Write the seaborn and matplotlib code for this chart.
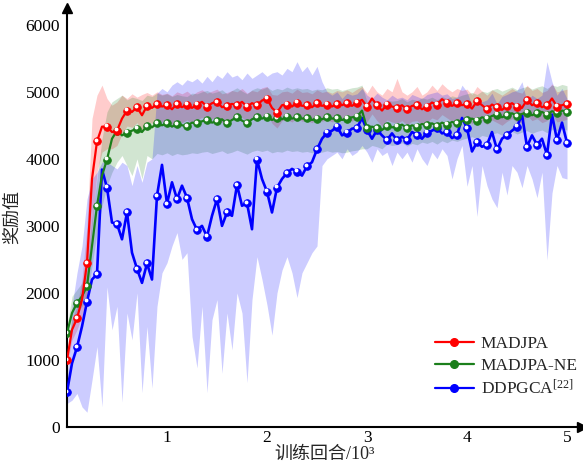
import numpy as np
import matplotlib
matplotlib.use("Agg")
import matplotlib.pyplot as plt
from matplotlib.lines import Line2D
from matplotlib.transforms import ScaledTranslation
import seaborn as sns

# Training episodes (every 50 episodes, 0 .. 5000)
episodes = np.arange(0, 5001, 50)

# MADJPA: mean reward and shaded range
madjpa_mean = [
    1000, 1450, 1620, 1900, 2450, 3700, 4260, 4480, 4480, 4400,
    4420, 4600, 4720, 4700, 4770, 4650, 4790, 4760, 4820, 4780,
    4800, 4740, 4820, 4770, 4810, 4760, 4810, 4850, 4780, 4830,
    4850, 4770, 4790, 4820, 4800, 4850, 4780, 4830, 4800, 4870,
    4900, 4760, 4690, 4800, 4810, 4780, 4840, 4790, 4800, 4770,
    4830, 4790, 4810, 4780, 4820, 4800, 4830, 4790, 4840, 4880,
    4780, 4900, 4800, 4720, 4810, 4780, 4760, 4800, 4740, 4790,
    4800, 4740, 4780, 4840, 4810, 4890, 4840, 4790, 4830, 4800,
    4820, 4750, 4860, 4800, 4740, 4810, 4770, 4730, 4790, 4830,
    4780, 4760, 4880, 4800, 4830, 4770, 4800, 4900, 4780, 4800,
    4820,
]
madjpa_low = [
    900, 1300, 1450, 1650, 2000, 3000, 3800, 4100, 4150, 4150,
    4200, 4370, 4490, 4470, 4540, 4420, 4560, 4530, 4590, 4550,
    4570, 4510, 4590, 4540, 4580, 4530, 4580, 4620, 4550, 4600,
    4620, 4540, 4560, 4590, 4570, 4620, 4550, 4600, 4570, 4640,
    4670, 4530, 4460, 4570, 4580, 4550, 4610, 4560, 4570, 4540,
    4600, 4560, 4580, 4550, 4590, 4570, 4600, 4560, 4610, 4650,
    4550, 4670, 4570, 4490, 4580, 4550, 4530, 4570, 4510, 4560,
    4570, 4510, 4550, 4610, 4580, 4660, 4610, 4560, 4600, 4570,
    4590, 4520, 4630, 4570, 4510, 4580, 4540, 4500, 4560, 4600,
    4550, 4530, 4650, 4570, 4600, 4540, 4570, 4670, 4550, 4570,
    4590,
]
madjpa_high = [
    1100, 1600, 1800, 2200, 3000, 4600, 4950, 5100, 4900, 4800,
    4850, 4950, 4900, 4970, 4920, 4960, 4990, 4950, 5000, 4960,
    4980, 4940, 5000, 4970, 5010, 4950, 5000, 5030, 4980, 5010,
    5040, 4970, 4990, 5020, 5000, 5050, 4980, 5020, 5000, 5060,
    5080, 4960, 4950, 5000, 5010, 4980, 5040, 4990, 5000, 4970,
    5030, 4990, 5010, 4980, 5020, 5000, 5030, 4990, 5040, 5080,
    4980, 5100, 5000, 4950, 5050, 5000, 5200, 5000, 4950, 5000,
    5080, 4950, 5000, 5100, 5020, 5120, 5050, 5000, 5050, 5020,
    5040, 4960, 5080, 5010, 4950, 5030, 4990, 4950, 5000, 5050,
    5000, 4980, 5100, 5020, 5050, 4990, 5020, 5120, 5000, 5020,
    5040,
]

# MADJPA-NE: mean reward and shaded range
ne_mean = [
    1400, 1700, 1850, 1950, 2100, 2700, 3300, 3750, 3990, 4300,
    4420, 4350, 4390, 4420, 4450, 4400, 4490, 4470, 4530, 4500,
    4530, 4480, 4520, 4500, 4490, 4540, 4530, 4560, 4580, 4540,
    4560, 4590, 4530, 4580, 4620, 4570, 4530, 4590, 4620, 4600,
    4630, 4580, 4610, 4590, 4630, 4600, 4620, 4600, 4610, 4580,
    4600, 4590, 4620, 4600, 4610, 4580, 4600, 4620, 4630, 4720,
    4460, 4480, 4460, 4430, 4490, 4470, 4480, 4510, 4460, 4500,
    4480, 4520, 4500, 4530, 4490, 4540, 4510, 4550, 4530, 4560,
    4580, 4600, 4570, 4620, 4600, 4640, 4660, 4620, 4650, 4680,
    4640, 4670, 4690, 4650, 4680, 4700, 4660, 4710, 4690, 4720,
    4700,
]
ne_low = [
    1300, 1500, 1700, 1800, 1900, 2400, 2900, 3300, 3600, 3800,
    3950, 4050, 3900, 3750, 4000, 3700, 4050, 4000, 4080, 4060,
    4090, 4050, 4080, 4060, 4070, 4090, 4080, 4100, 4110, 4080,
    4100, 4120, 4080, 4100, 4130, 4100, 4070, 4110, 4130, 4110,
    4130, 4090, 4110, 4100, 4130, 4110, 4120, 4100, 4110, 4090,
    4100, 4100, 4120, 4100, 4110, 4090, 4100, 4120, 4130, 4150,
    4150, 4200, 4180, 4150, 4220, 4200, 4210, 4240, 4190, 4230,
    4210, 4250, 4230, 4260, 4220, 4270, 4240, 4280, 4260, 4290,
    4310, 4330, 4300, 4350, 4330, 4370, 4390, 4350, 4380, 4410,
    4370, 4400, 4420, 4380, 4410, 4430, 4390, 4440, 4420, 4450,
    4430,
]
ne_high = [
    1500, 1950, 2050, 2150, 2350, 3100, 3700, 4300, 4700, 4850,
    4900, 4950, 4880, 4920, 4900, 4870, 4950, 4930, 4980, 4950,
    4970, 4930, 4960, 4940, 4930, 4980, 4970, 5000, 5020, 4980,
    5000, 5030, 4970, 5020, 5060, 5010, 4970, 5030, 5060, 5040,
    5070, 5020, 5050, 5030, 5070, 5040, 5060, 5040, 5050, 5020,
    5040, 5030, 5060, 5040, 5050, 5020, 5040, 5060, 5070, 5100,
    4850, 4870, 4850, 4820, 4880, 4860, 4870, 4900, 4850, 4890,
    4870, 4910, 4890, 4920, 4880, 4930, 4900, 4940, 4920, 4950,
    4970, 4990, 4960, 5010, 4990, 5030, 5050, 5010, 5040, 5070,
    5030, 5060, 5080, 5040, 5070, 5090, 5050, 5100, 5080, 5110,
    5090,
]

# DDPGCA: mean reward and shaded range
ddpgca_mean = [
    520, 950, 1190, 1500, 1870, 2200, 2280, 3840, 3570, 3050,
    3030, 2800, 3200, 2600, 2360, 2150, 2440, 2200, 3450, 3910,
    3330, 3650, 3400, 3600, 3420, 3100, 2940, 3000, 2840, 3150,
    3400, 3000, 3200, 3150, 3610, 3300, 3340, 2950, 3990, 3700,
    3510, 3200, 3570, 3700, 3790, 3850, 3810, 3750, 3890, 3950,
    4140, 4300, 4390, 4420, 4480, 4350, 4390, 4450, 4460, 4610,
    4430, 4300, 4430, 4350, 4280, 4380, 4280, 4330, 4280, 4400,
    4360, 4300, 4390, 4420, 4460, 4380, 4400, 4310, 4350, 4610,
    4460, 4110, 4250, 4180, 4210, 4400, 4140, 4300, 4360, 4420,
    4480, 4660, 4180, 4350, 4210, 4300, 4060, 4660, 4280, 4540,
    4240,
]
ddpgca_low = [
    350, 400, 500, 300, 220, 700, 1200, 300, 2090, 1450,
    1800, 370, 1700, 1300, 2000, 510, 1500, 580, 1800, 2300,
    2450, 2700, 2900, 2500, 2600, 1350, 880, 1800, 510, 1600,
    1900, 800, 1700, 1150, 2000, 1700, 660, 1900, 2540, 2200,
    1820, 1370, 2000, 2340, 2540, 2300, 1930, 2300, 2450, 2600,
    2700, 3900, 4000, 4050, 4100, 4000, 4150, 4050, 4100, 4200,
    4100, 3950, 4150, 4050, 4100, 3900, 4100, 4000, 4100, 3950,
    4150, 4000, 3900, 4100, 4000, 4150, 4050, 3700, 4000, 4200,
    3590, 3900, 3140, 3900, 3600, 3400, 3270, 3800, 3460, 3900,
    3800, 3570, 3900, 3700, 3420, 3800, 2490, 3490, 3900, 3720,
    3700,
]
ddpgca_high = [
    700, 1800, 2300, 2700, 3400, 3700, 3800, 3950, 3950, 3900,
    3850, 3950, 3900, 3600, 3900, 3650, 3950, 4000, 4980, 5050,
    5000, 5100, 5150, 5100, 5180, 5150, 5200, 5130, 5230, 5150,
    5250, 5200, 5300, 5220, 5250, 5180, 5280, 5200, 5250, 5300,
    5230, 5280, 5300, 5250, 5350, 5300, 5450, 5300, 5380, 5250,
    5380, 5150, 5000, 4950, 5000, 4900, 4980, 4950, 4970, 5050,
    4950, 4900, 4980, 4920, 4880, 4950, 4900, 4920, 4880, 4960,
    4930, 4900, 4960, 4980, 5000, 4950, 4970, 4900, 4920, 5100,
    5000, 4800, 4900, 4850, 4880, 4980, 4820, 4930, 4960, 5000,
    5020, 5150, 4850, 4950, 4900, 4950, 5450, 5150, 4950, 5050,
    4900,
]

labels = ["MADJPA", "MADJPA-NE", "DDPGCA$^{\\mathrm{[22]}}$"]
colors = ["#ff0000", "#1b7f1b", "#0000ff"]

sns.set_style("white")
plt.rcParams["font.family"] = ["Liberation Serif", "Noto Sans CJK SC"]
plt.rcParams["mathtext.fontset"] = "custom"
plt.rcParams["mathtext.rm"] = "Liberation Serif"
plt.rcParams["mathtext.it"] = "Liberation Serif:italic"

fig = plt.figure(figsize=(5.83, 4.67), dpi=100)
ax = fig.add_axes([67 / 583, 40 / 467, 515 / 583, 419 / 467])

x = episodes / 1000.0
series = [
    (madjpa_mean, madjpa_low, madjpa_high),
    (ne_mean, ne_low, ne_high),
    (ddpgca_mean, ddpgca_low, ddpgca_high),
]
widths = [1.6, 1.6, 1.9]

# shaded ranges
for (mean, lo, hi), c in zip(series, colors):
    ax.fill_between(x, lo, hi, color=c, alpha=0.2, lw=0, zorder=1)

# mean curves, with a marker every 100 episodes and a small highlight
shine = ax.transData + ScaledTranslation(-0.012, 0.012, fig.dpi_scale_trans)
for k in [2, 1, 0]:
    mean = np.asarray(series[k][0])
    z = 3 + (2 - k) * 0.3
    sns.lineplot(x=x, y=mean, ax=ax, color=colors[k], lw=widths[k],
                 marker="o", markersize=5.5, markevery=2,
                 markeredgecolor=colors[k], markeredgewidth=0.6,
                 legend=False, zorder=z)
    ax.plot(x[::2], mean[::2], ls="", marker="o", ms=1.8, color="white",
            transform=shine, zorder=z + 0.1)

ax.set_xlim(0, 5.15)
ax.set_ylim(0, 6250)
ax.set_xticks([1, 2, 3, 4, 5])
ax.set_yticks(range(0, 6001, 1000))
ax.tick_params(direction="in", length=6, width=1.3, labelsize=12.5,
               colors="black")
ax.tick_params(axis="x", pad=2)
ax.tick_params(axis="y", pad=5)

for side in ["top", "right"]:
    ax.spines[side].set_visible(False)
for side in ["left", "bottom"]:
    ax.spines[side].set_linewidth(1.5)
    ax.spines[side].set_color("black")

# arrow heads at the ends of both axes
ax.plot(1, 0, ">", color="black", ms=7, transform=ax.transAxes, clip_on=False)
ax.plot(0, 1, "^", color="black", ms=7, transform=ax.transAxes, clip_on=False)

ax.set_xlabel("训练回合/10³", fontsize=13, labelpad=0)
ax.set_ylabel("奖励值", fontsize=13, labelpad=3)

handles = [Line2D([], [], color=c, lw=1.6, marker="o", markersize=5.5)
           for c in colors]
ax.legend(handles, labels, loc="center left", bbox_to_anchor=(0.685, 0.143),
          frameon=False, fontsize=12.5, handlelength=2.2, handletextpad=0.4,
          labelspacing=0.3)

fig.savefig("out.png", dpi=100, facecolor="white")
